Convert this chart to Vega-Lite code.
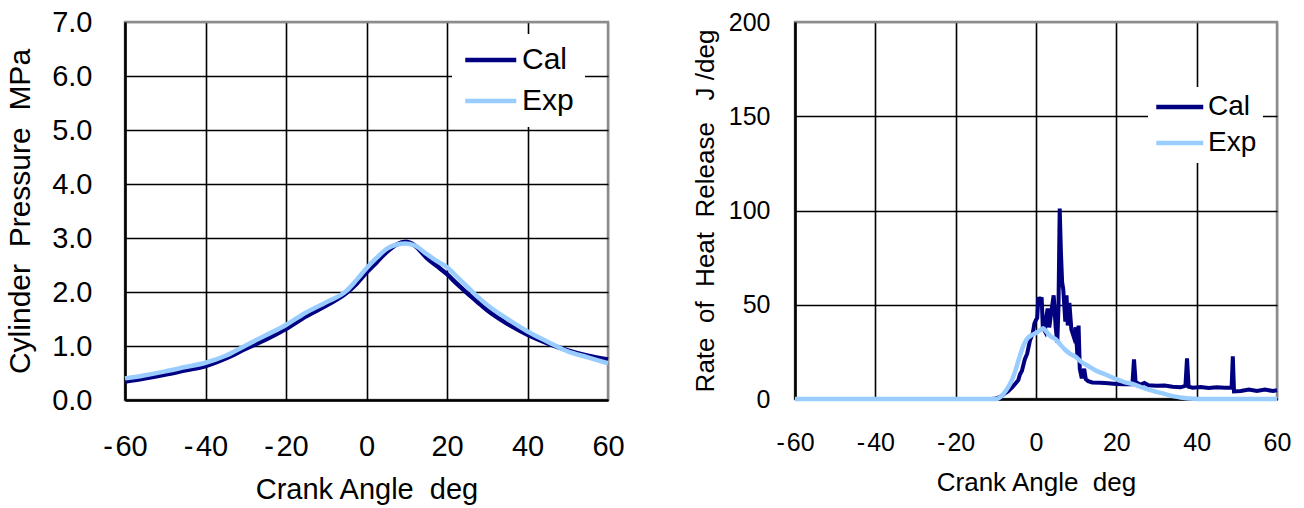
{
  "$schema": "https://vega.github.io/schema/vega-lite/v6.json",
  "background": "white",
  "autosize": {"type": "pad"},
  "padding": {"left": 4, "top": 6, "right": 0, "bottom": 0},
  "config": {
    "font": "Liberation Sans",
    "view": {"stroke": "#8c8c8c", "strokeWidth": 2.5},
    "axis": {
      "domainColor": "black",
      "domainWidth": 2.5,
      "ticks": false,
      "gridWidth": 1.6,
      "labelFlush": false,
      "labelColor": "black",
      "titleColor": "black",
      "titleFontWeight": "normal",
      "labelFont": "Liberation Sans",
      "titleFont": "Liberation Sans"
    },
    "legend": {
      "labelColor": "black",
      "labelFont": "Liberation Sans",
      "symbolType": "M-1,0H3",
      "symbolStrokeWidth": 4.5,
      "fillColor": "white",
      "strokeColor": null
    }
  },
  "datasets": {
    "pressure": [
      {"ca": -60, "p": 0.34, "case": "Cal"}, {"ca": -55, "p": 0.40, "case": "Cal"},
      {"ca": -50, "p": 0.47, "case": "Cal"}, {"ca": -45, "p": 0.55, "case": "Cal"},
      {"ca": -40, "p": 0.63, "case": "Cal"}, {"ca": -35, "p": 0.77, "case": "Cal"},
      {"ca": -30, "p": 0.95, "case": "Cal"}, {"ca": -25, "p": 1.12, "case": "Cal"},
      {"ca": -20, "p": 1.32, "case": "Cal"}, {"ca": -15, "p": 1.55, "case": "Cal"},
      {"ca": -10, "p": 1.75, "case": "Cal"}, {"ca": -5, "p": 1.98, "case": "Cal"},
      {"ca": -2.5, "p": 2.15, "case": "Cal"}, {"ca": 0, "p": 2.36, "case": "Cal"},
      {"ca": 2.5, "p": 2.55, "case": "Cal"}, {"ca": 5, "p": 2.74, "case": "Cal"},
      {"ca": 7.5, "p": 2.88, "case": "Cal"}, {"ca": 9.7, "p": 2.93, "case": "Cal"},
      {"ca": 12, "p": 2.86, "case": "Cal"}, {"ca": 15, "p": 2.63, "case": "Cal"},
      {"ca": 17.5, "p": 2.48, "case": "Cal"}, {"ca": 20, "p": 2.33, "case": "Cal"},
      {"ca": 22.5, "p": 2.15, "case": "Cal"}, {"ca": 25, "p": 1.98, "case": "Cal"},
      {"ca": 27.5, "p": 1.82, "case": "Cal"}, {"ca": 30, "p": 1.66, "case": "Cal"},
      {"ca": 35, "p": 1.41, "case": "Cal"}, {"ca": 40, "p": 1.21, "case": "Cal"},
      {"ca": 45, "p": 1.05, "case": "Cal"}, {"ca": 50, "p": 0.92, "case": "Cal"},
      {"ca": 55, "p": 0.82, "case": "Cal"}, {"ca": 60, "p": 0.75, "case": "Cal"},
      {"ca": -60, "p": 0.40, "case": "Exp"}, {"ca": -55, "p": 0.46, "case": "Exp"},
      {"ca": -50, "p": 0.53, "case": "Exp"}, {"ca": -45, "p": 0.61, "case": "Exp"},
      {"ca": -40, "p": 0.69, "case": "Exp"}, {"ca": -35, "p": 0.82, "case": "Exp"},
      {"ca": -30, "p": 1.01, "case": "Exp"}, {"ca": -25, "p": 1.20, "case": "Exp"},
      {"ca": -20, "p": 1.39, "case": "Exp"}, {"ca": -15, "p": 1.62, "case": "Exp"},
      {"ca": -10, "p": 1.81, "case": "Exp"}, {"ca": -5, "p": 2.02, "case": "Exp"},
      {"ca": -2.5, "p": 2.22, "case": "Exp"}, {"ca": 0, "p": 2.44, "case": "Exp"},
      {"ca": 2.5, "p": 2.63, "case": "Exp"}, {"ca": 5, "p": 2.80, "case": "Exp"},
      {"ca": 7.5, "p": 2.88, "case": "Exp"}, {"ca": 9.7, "p": 2.90, "case": "Exp"},
      {"ca": 12, "p": 2.86, "case": "Exp"}, {"ca": 15, "p": 2.70, "case": "Exp"},
      {"ca": 17.5, "p": 2.57, "case": "Exp"}, {"ca": 20, "p": 2.46, "case": "Exp"},
      {"ca": 22.5, "p": 2.28, "case": "Exp"}, {"ca": 25, "p": 2.10, "case": "Exp"},
      {"ca": 27.5, "p": 1.92, "case": "Exp"}, {"ca": 30, "p": 1.76, "case": "Exp"},
      {"ca": 35, "p": 1.50, "case": "Exp"}, {"ca": 40, "p": 1.27, "case": "Exp"},
      {"ca": 45, "p": 1.08, "case": "Exp"}, {"ca": 50, "p": 0.90, "case": "Exp"},
      {"ca": 55, "p": 0.79, "case": "Exp"}, {"ca": 60, "p": 0.68, "case": "Exp"}
    ],
    "hrr": [
      {"ca": -60, "q": 0, "case": "Cal"}, {"ca": -11, "q": 0, "case": "Cal"},
      {"ca": -10, "q": 0.3, "case": "Cal"}, {"ca": -9, "q": 1, "case": "Cal"},
      {"ca": -8, "q": 2.6, "case": "Cal"}, {"ca": -7, "q": 4, "case": "Cal"},
      {"ca": -6, "q": 6, "case": "Cal"}, {"ca": -5, "q": 8.5, "case": "Cal"},
      {"ca": -4.4, "q": 10, "case": "Cal"}, {"ca": -4, "q": 13, "case": "Cal"},
      {"ca": -3.5, "q": 15, "case": "Cal"}, {"ca": -2.8, "q": 21, "case": "Cal"},
      {"ca": -2.2, "q": 24, "case": "Cal"}, {"ca": -1.5, "q": 31, "case": "Cal"},
      {"ca": -0.8, "q": 35, "case": "Cal"}, {"ca": -0.4, "q": 40, "case": "Cal"},
      {"ca": 0, "q": 42, "case": "Cal"}, {"ca": 0.3, "q": 43, "case": "Cal"},
      {"ca": 0.6, "q": 54, "case": "Cal"}, {"ca": 1.0, "q": 52, "case": "Cal"},
      {"ca": 1.4, "q": 54, "case": "Cal"}, {"ca": 1.7, "q": 38, "case": "Cal"},
      {"ca": 2.2, "q": 36, "case": "Cal"}, {"ca": 2.6, "q": 44, "case": "Cal"},
      {"ca": 2.9, "q": 48, "case": "Cal"}, {"ca": 3.3, "q": 38, "case": "Cal"},
      {"ca": 3.8, "q": 46, "case": "Cal"}, {"ca": 4.4, "q": 55, "case": "Cal"},
      {"ca": 4.9, "q": 38, "case": "Cal"}, {"ca": 5.3, "q": 30, "case": "Cal"},
      {"ca": 5.6, "q": 49, "case": "Cal"}, {"ca": 5.9, "q": 101, "case": "Cal"},
      {"ca": 6.2, "q": 78, "case": "Cal"}, {"ca": 6.5, "q": 62, "case": "Cal"},
      {"ca": 6.8, "q": 58, "case": "Cal"}, {"ca": 7.0, "q": 51, "case": "Cal"},
      {"ca": 7.3, "q": 41, "case": "Cal"}, {"ca": 7.6, "q": 55, "case": "Cal"},
      {"ca": 7.9, "q": 39, "case": "Cal"}, {"ca": 8.3, "q": 51, "case": "Cal"},
      {"ca": 8.8, "q": 37, "case": "Cal"}, {"ca": 9.4, "q": 33, "case": "Cal"},
      {"ca": 9.9, "q": 38, "case": "Cal"}, {"ca": 10.3, "q": 23, "case": "Cal"},
      {"ca": 10.6, "q": 39, "case": "Cal"}, {"ca": 10.9, "q": 16, "case": "Cal"},
      {"ca": 11.4, "q": 11, "case": "Cal"}, {"ca": 12.0, "q": 16, "case": "Cal"},
      {"ca": 12.4, "q": 10.5, "case": "Cal"}, {"ca": 13, "q": 9.5, "case": "Cal"},
      {"ca": 14, "q": 8.8, "case": "Cal"}, {"ca": 16, "q": 8.6, "case": "Cal"},
      {"ca": 18, "q": 8.4, "case": "Cal"}, {"ca": 20, "q": 8, "case": "Cal"},
      {"ca": 22, "q": 7.8, "case": "Cal"}, {"ca": 24, "q": 7.8, "case": "Cal"},
      {"ca": 24.4, "q": 21, "case": "Cal"}, {"ca": 24.8, "q": 9, "case": "Cal"},
      {"ca": 26, "q": 7.6, "case": "Cal"}, {"ca": 27, "q": 8.5, "case": "Cal"},
      {"ca": 28, "q": 7.3, "case": "Cal"}, {"ca": 30, "q": 7.0, "case": "Cal"},
      {"ca": 32, "q": 7.2, "case": "Cal"}, {"ca": 34, "q": 6.5, "case": "Cal"},
      {"ca": 36, "q": 6.2, "case": "Cal"}, {"ca": 37.2, "q": 7, "case": "Cal"},
      {"ca": 37.6, "q": 21.5, "case": "Cal"}, {"ca": 38, "q": 6.5, "case": "Cal"},
      {"ca": 39, "q": 6, "case": "Cal"}, {"ca": 41, "q": 6.4, "case": "Cal"},
      {"ca": 43, "q": 5.8, "case": "Cal"}, {"ca": 45, "q": 6.2, "case": "Cal"},
      {"ca": 47, "q": 6.0, "case": "Cal"}, {"ca": 48.7, "q": 6, "case": "Cal"},
      {"ca": 49, "q": 22.6, "case": "Cal"}, {"ca": 49.3, "q": 4, "case": "Cal"},
      {"ca": 51, "q": 4.2, "case": "Cal"}, {"ca": 53, "q": 5, "case": "Cal"},
      {"ca": 55, "q": 4.2, "case": "Cal"}, {"ca": 57, "q": 5.0, "case": "Cal"},
      {"ca": 59, "q": 4.2, "case": "Cal"}, {"ca": 60, "q": 4.6, "case": "Cal"},
      {"ca": -60, "q": 0, "case": "Exp"}, {"ca": -10, "q": 0, "case": "Exp"},
      {"ca": -9, "q": 0.8, "case": "Exp"}, {"ca": -8, "q": 3, "case": "Exp"},
      {"ca": -7, "q": 6, "case": "Exp"}, {"ca": -6, "q": 10, "case": "Exp"},
      {"ca": -5, "q": 16, "case": "Exp"}, {"ca": -4, "q": 23, "case": "Exp"},
      {"ca": -3, "q": 29, "case": "Exp"}, {"ca": -2, "q": 32.5, "case": "Exp"},
      {"ca": -1, "q": 34, "case": "Exp"}, {"ca": 0, "q": 35, "case": "Exp"},
      {"ca": 1, "q": 36.5, "case": "Exp"}, {"ca": 1.8, "q": 37.5, "case": "Exp"},
      {"ca": 2.5, "q": 36, "case": "Exp"}, {"ca": 3.5, "q": 33.5, "case": "Exp"},
      {"ca": 5, "q": 31.5, "case": "Exp"}, {"ca": 6, "q": 29, "case": "Exp"},
      {"ca": 7.3, "q": 26, "case": "Exp"}, {"ca": 8.5, "q": 24, "case": "Exp"},
      {"ca": 9.8, "q": 22.5, "case": "Exp"}, {"ca": 11.4, "q": 19.5, "case": "Exp"},
      {"ca": 13, "q": 17.5, "case": "Exp"}, {"ca": 15, "q": 15, "case": "Exp"},
      {"ca": 17.3, "q": 13, "case": "Exp"}, {"ca": 20, "q": 10.5, "case": "Exp"},
      {"ca": 22, "q": 9, "case": "Exp"}, {"ca": 24, "q": 8, "case": "Exp"},
      {"ca": 26, "q": 6.5, "case": "Exp"}, {"ca": 28, "q": 5, "case": "Exp"},
      {"ca": 30, "q": 3.8, "case": "Exp"}, {"ca": 32, "q": 2.7, "case": "Exp"},
      {"ca": 34, "q": 1.5, "case": "Exp"}, {"ca": 36, "q": 0.8, "case": "Exp"},
      {"ca": 38, "q": 0.3, "case": "Exp"}, {"ca": 40, "q": 0, "case": "Exp"},
      {"ca": 60, "q": 0, "case": "Exp"}
    ]
  },
  "bounds": "flush",
  "spacing": 187,
  "resolve": {"scale": {"color": "independent"}, "legend": {"color": "independent"}},
  "hconcat": [
    {
      "width": 483,
      "height": 378,
      "data": {"name": "pressure"},
      "encoding": {
        "x": {
          "field": "ca", "type": "quantitative",
          "scale": {"domain": [-60, 60], "nice": false, "zero": false},
          "axis": {
            "values": [-60, -40, -20, 0, 20, 40, 60],
            "labelExpr": "datum.value < 0 ? '-\u200a' + abs(datum.value) : '' + datum.value",
            "title": "Crank Angle\u00a0 deg",
            "labelFontSize": 29, "titleFontSize": 29,
            "labelPadding": 32, "titlePadding": 14,
            "gridColor": {"condition": {"test": "datum.value >= 60", "value": "#8c8c8c"}, "value": "black"}
          }
        },
        "y": {
          "field": "p", "type": "quantitative",
          "scale": {"domain": [0, 7], "nice": false},
          "axis": {
            "values": [0, 1, 2, 3, 4, 5, 6, 7],
            "format": ".1f",
            "title": "Cylinder\u00a0 Pressure\u00a0 MPa",
            "labelFontSize": 29, "titleFontSize": 30,
            "labelPadding": 33, "titlePadding": 16,
            "gridColor": {"condition": {"test": "datum.value >= 7", "value": "#8c8c8c"}, "value": "black"}
          }
        },
        "color": {
          "field": "case", "type": "nominal",
          "scale": {"domain": ["Cal", "Exp"], "range": ["#000080", "#99ccff"]},
          "legend": {
            "orient": "none", "legendX": 327, "legendY": 12,
            "title": null,
            "symbolSize": 650, "labelFontSize": 30, "labelOffset": 29,
            "padding": 11, "rowPadding": 11
          }
        }
      },
      "layer": [
        {"transform": [{"filter": "datum.case === 'Cal'"}], "mark": {"type": "line", "strokeWidth": 4.5, "interpolate": "monotone"}},
        {"transform": [{"filter": "datum.case === 'Exp'"}], "mark": {"type": "line", "strokeWidth": 4.5, "interpolate": "monotone"}}
      ]
    },
    {
      "width": 482,
      "height": 377,
      "data": {"name": "hrr"},
      "encoding": {
        "x": {
          "field": "ca", "type": "quantitative",
          "scale": {"domain": [-60, 60], "nice": false, "zero": false},
          "axis": {
            "values": [-60, -40, -20, 0, 20, 40, 60],
            "labelExpr": "datum.value < 0 ? '-\u200a' + abs(datum.value) : '' + datum.value",
            "title": "Crank Angle\u00a0 deg",
            "labelFontSize": 25, "titleFontSize": 26,
            "labelPadding": 31, "titlePadding": 14,
            "gridColor": {"condition": {"test": "datum.value >= 60", "value": "#8c8c8c"}, "value": "black"}
          }
        },
        "y": {
          "field": "q", "type": "quantitative",
          "scale": {"domain": [0, 200], "nice": false},
          "axis": {
            "values": [0, 50, 100, 150, 200],
            "title": "Rate\u00a0 of\u00a0 Heat\u00a0 Release\u00a0\u00a0 J /deg",
            "labelFontSize": 25, "titleFontSize": 26,
            "labelPadding": 25, "titlePadding": 10,
            "gridColor": {"condition": {"test": "datum.value >= 200", "value": "#8c8c8c"}, "value": "black"}
          }
        },
        "color": {
          "field": "case", "type": "nominal",
          "scale": {"domain": ["Cal", "Exp"], "range": ["#000080", "#99ccff"]},
          "legend": {
            "orient": "none", "legendX": 353, "legendY": 65,
            "title": null,
            "symbolSize": 552, "labelFontSize": 28, "labelOffset": 26,
            "padding": 6, "rowPadding": 8
          }
        }
      },
      "layer": [
        {"transform": [{"filter": "datum.case === 'Cal'"}], "mark": {"type": "line", "strokeWidth": 4, "interpolate": "linear"}},
        {"transform": [{"filter": "datum.case === 'Exp'"}], "mark": {"type": "line", "strokeWidth": 4.5, "interpolate": "monotone"}}
      ]
    }
  ]
}
